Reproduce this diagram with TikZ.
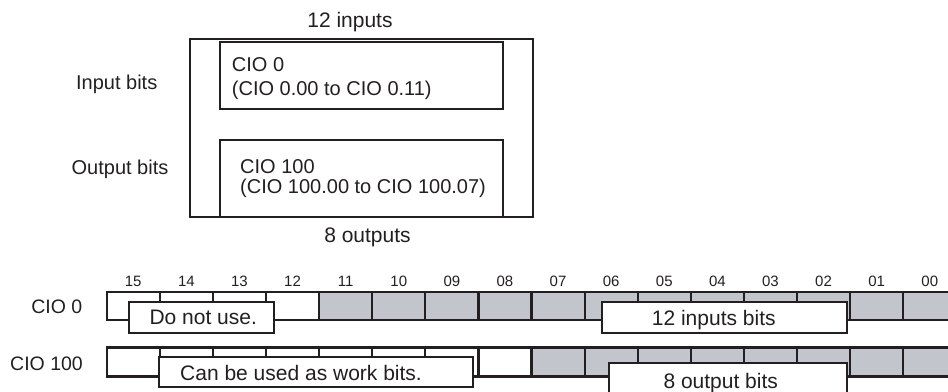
\documentclass[tikz,border=0pt]{standalone}
\usepackage{fontspec}
\setmainfont{Liberation Sans}
\usepackage{tikz}
\usetikzlibrary{positioning}
\definecolor{ink}{RGB}{35,31,32}
\definecolor{cellgray}{RGB}{195,197,204}

\tikzset{
  box/.style={draw=ink, line width=2.2pt, fill=white, outer sep=0pt, inner sep=0pt},
  bitcell/.style={draw=ink, line width=2.2pt, minimum width=53.1pt, inner sep=0pt, outer sep=0pt},
  txt/.style={inner sep=0pt, text=ink},
  tagtxt/.style={txt, anchor=base west, font=\fontsize{21}{24}\selectfont},
  bitno/.style={txt, anchor=base, font=\fontsize{15}{17}\selectfont},
}

\begin{document}
\begin{tikzpicture}[x=1pt, y=-1pt, font=\fontsize{20}{24}\selectfont]
  \clip (0,0) rectangle (948,391);

  % zone d'E/S
  \node[box, minimum width=342.7pt, minimum height=178pt] (area) at (361.3,128.3) {};
  \node[box, minimum width=283.3pt, minimum height=67.3pt] (inarea) at (361.7,75.3) {};
  \node[box, minimum width=283.3pt, minimum height=76.7pt] (outarea) at (361.7,178.3) {};
  \node[txt, anchor=west, align=left, font=\fontsize{20}{24.3}\selectfont] (inareatxt) at (231.7,78.7) {CIO 0\\(CIO 0.00 to CIO 0.11)};
  \node[txt, anchor=west, align=left, font=\fontsize{20}{19.5}\selectfont] (outareatxt) at (240,178.6) {CIO 100\\(CIO 100.00 to CIO 100.07)};
  \node[txt, anchor=base, font=\fontsize{21}{24}\selectfont] (nin) at (350,27.3) {12 inputs};
  \node[txt, anchor=base, font=\fontsize{21}{24}\selectfont] (nout) at (367.5,242.6) {8 outputs};
  \node[txt, anchor=base] (lin) at (116.7,89) {Input bits};
  \node[txt, anchor=base] (lout) at (120,174) {Output bits};

  % mots de bits
  \foreach \i in {0,...,15} {
    \pgfmathtruncatemacro{\b}{15-\i}
    \pgfmathsetmacro{\cx}{133.25+53.1*\i}
    \ifnum\i<4 \def\fa{white}\else\def\fa{cellgray}\fi
    \ifnum\i<8 \def\fb{white}\else\def\fb{cellgray}\fi
    \node[bitcell, fill=\fa, minimum height=28pt] (c0-\b) at (\cx,306) {};
    \node[bitcell, fill=\fb, minimum height=29pt] (c1-\b) at (\cx,362) {};
    \node[bitno] (n\b) at (\cx,286.7) {\ifnum\b<10 0\fi\b};
  }
  \node[txt, anchor=base east, font=\fontsize{19.5}{22}\selectfont] (r0) at (82.5,313.3) {CIO 0};
  \node[txt, anchor=base east, font=\fontsize{19.5}{22}\selectfont] (r1) at (83,370) {CIO 100};

  % etiquettes
  \node[box, minimum width=145pt, minimum height=31.6pt] (nouse) at (201.8,317.5) {};
  \node[tagtxt] (nousetxt) at (149.3,324.8) {Do not use.};
  \node[box, minimum width=245pt, minimum height=31.6pt] (inbits) at (724.2,317.5) {};
  \node[tagtxt] (inbitstxt) at (651.7,325.5) {12 inputs bits};
  \node[box, minimum width=313.4pt, minimum height=29.4pt] (work) at (316,372) {};
  \node[tagtxt] (worktxt) at (180,380) {Can be used as work bits.};
  \node[box, minimum width=237.4pt, minimum height=36.7pt] (outbits) at (728,381.7) {};
  \node[tagtxt] (outbitstxt) at (663.3,388.3) {8 output bits};
\end{tikzpicture}
\end{document}
